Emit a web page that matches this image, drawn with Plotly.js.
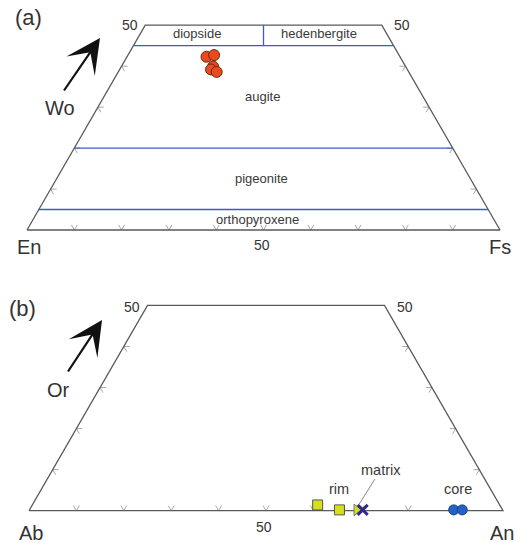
<!DOCTYPE html>
<html>
<head>
<meta charset="utf-8">
<script src="https://cdn.plot.ly/plotly-3.0.1.min.js"></script>
<style>html,body{margin:0;padding:0;background:#fff;}#chart{width:522px;height:543px;}</style>
</head>
<body>
<div id="chart"></div>
<script>
// ---------- DATA ----------
// (a) pyroxene compositions (mol %)
const pyxWo = [42.3, 42.7, 39.9, 39.2, 38.6];
const pyxEn = [40.9, 39.1, 40.7, 41.5, 40.6];
const pyxFs = [16.8, 18.2, 19.4, 19.3, 20.8];
// pyroxene field boundaries (Wo %)
const pyxBoundWo = [45, 20, 5];
const pyxFieldNames = ['diopside', 'hedenbergite', 'augite', 'pigeonite', 'orthopyroxene'];

// (b) feldspar compositions (mol %)
const rimAn = [60.2, 65.4];
const rimOr = [1.4, 0.2];
const rim2An = [69.0];
const rim2Or = [0.2];
const matrixAn = [70.3];
const matrixOr = [0.2];
const coreAn = [89.5, 91.3];
const coreOr = [0.2, 0.2];

// tick values (%)
const baseTicks = [10, 20, 30, 40, 50, 60, 70, 80, 90];
const sideTicks = [10, 20, 30, 40];
const topLimit = 50;

// ---------- GEOMETRY HELPERS ----------
const SQ = Math.sqrt(3) / 2;
// right = Fs or An (%), top = Wo or Or (%)
function tx(right, top) { return right + top / 2; }
function ty(top) { return top * SQ; }

function outline() {
  const c = [[0, 0], [100, 0], [100 - topLimit, topLimit], [0, topLimit], [0, 0]];
  return { x: c.map(p => tx(p[0], p[1])), y: c.map(p => ty(p[1])) };
}

function ticks() {
  const L = 1.25;
  const x = [], y = [];
  baseTicks.forEach(t => {
    x.push(t - L / 2, t, t + L / 2, null);
    y.push(L * SQ, 0, L * SQ, null);
  });
  sideTicks.forEach(w => {
    const lx = tx(0, w), ly = ty(w);
    x.push(lx + L, lx, lx + L / 2, null);
    y.push(ly, ly, ly - L * SQ, null);
    const rx = tx(100 - w, w);
    x.push(rx - L, rx, rx - L / 2, null);
    y.push(ly, ly, ly - L * SQ, null);
  });
  return { x, y };
}

function boundaries() {
  const x = [], y = [];
  pyxBoundWo.forEach(w => {
    x.push(tx(0, w), tx(100 - w, w), null);
    y.push(ty(w), ty(w), null);
  });
  // diopside / hedenbergite divide (En = Fs) between Wo 45 and 50
  const w0 = pyxBoundWo[0];
  x.push(tx((100 - w0) / 2, w0), tx((100 - topLimit) / 2, topLimit), null);
  y.push(ty(w0), ty(topLimit), null);
  return { x, y };
}

const ol = outline(), tk = ticks(), bd = boundaries();
const outlineStyle = { color: '#5a5a5a', width: 1.3 };
const tickStyle = { color: '#a8a8a8', width: 1 };

const traces = [];
['', '2'].forEach(s => {
  traces.push({ x: tk.x, y: tk.y, xaxis: 'x' + s, yaxis: 'y' + s, mode: 'lines', line: tickStyle, hoverinfo: 'skip' });
  traces.push({ x: ol.x, y: ol.y, xaxis: 'x' + s, yaxis: 'y' + s, mode: 'lines', line: outlineStyle, hoverinfo: 'skip' });
});
traces.push({ x: bd.x, y: bd.y, xaxis: 'x', yaxis: 'y', mode: 'lines', line: { color: '#3b5cc4', width: 1.3 }, hoverinfo: 'skip' });

// pyroxene points
traces.push({
  x: pyxFs.map((f, i) => tx(f, pyxWo[i])), y: pyxWo.map(ty),
  xaxis: 'x', yaxis: 'y', mode: 'markers',
  marker: { symbol: 'circle', size: 11, color: '#ea4a1e', line: { color: '#6b2a14', width: 1 } }
});

// feldspar points
traces.push({
  x: rimAn.map((a, i) => tx(a, rimOr[i])), y: rimOr.map(ty),
  xaxis: 'x2', yaxis: 'y2', mode: 'markers',
  marker: { symbol: 'square', size: 10, color: '#d4e01c', line: { color: '#555', width: 1 } }
});
traces.push({
  x: rim2An.map((a, i) => tx(a, rim2Or[i])), y: rim2Or.map(ty),
  xaxis: 'x2', yaxis: 'y2', mode: 'markers',
  marker: { symbol: 'triangle-right', size: 10, color: '#d4e01c', line: { color: '#777', width: 1 } }
});
traces.push({
  x: matrixAn.map((a, i) => tx(a, matrixOr[i])), y: matrixOr.map(ty),
  xaxis: 'x2', yaxis: 'y2', mode: 'markers',
  marker: { symbol: 'x-thin', size: 10, color: '#2d2a8e', line: { color: '#2d2a8e', width: 3 } }
});
traces.push({
  x: coreAn.map((a, i) => tx(a, coreOr[i])), y: coreOr.map(ty),
  xaxis: 'x2', yaxis: 'y2', mode: 'markers',
  marker: { symbol: 'circle', size: 10, color: '#2262c4', line: { color: '#1b3f86', width: 1 } }
});

// ---------- LAYOUT ----------
const W = 522, H = 543;
function P(px, py) { return { x: px / W, y: 1 - py / H, xref: 'paper', yref: 'paper' }; }
const dark = '#333';
const FAM = 'Liberation Sans, Arial, sans-serif';
function lab(px, py, text, size) {
  return Object.assign(P(px, py), { text: text, showarrow: false, xanchor: 'center', yanchor: 'middle',
    font: { family: FAM, size: size, color: dark } });
}
function dlab(xr, x, y, text, size) {
  return { xref: xr, yref: xr.replace('x', 'y'), x: x, y: y, text: text, showarrow: false,
    xanchor: 'center', yanchor: 'middle', font: { family: FAM, size: size, color: '#3a3a3a' } };
}
function arrow(hx, hy, ax, ay) {
  return Object.assign(P(hx, hy), { text: '', showarrow: true, arrowhead: 3, arrowsize: 2.6,
    arrowwidth: 2.2, arrowcolor: '#111', ax: ax, ay: ay, standoff: 0 });
}

const annotations = [
  lab(28, 17, '(a)', 22), lab(22, 308, '(b)', 22),
  lab(60, 108, 'Wo', 20), lab(58, 390, 'Or', 20),
  lab(29, 247, 'En', 20), lab(500, 247, 'Fs', 20), lab(262, 245, '50', 14),
  lab(130, 25, '50', 14), lab(402, 25, '50', 14),
  lab(31, 533, 'Ab', 20), lab(502, 533, 'An', 20), lab(264, 527, '50', 14),
  lab(132, 307, '50', 14), lab(405, 307, '50', 14),
  arrow(100, 38, -37, 54), arrow(102, 320, -35, 53),
  dlab('x', 35.9, 41.6, pyxFieldNames[0], 13),
  dlab('x', 61.7, 41.6, pyxFieldNames[1], 13),
  dlab('x', 49.7, 28.3, pyxFieldNames[2], 13),
  dlab('x', 49.5, 10.8, pyxFieldNames[3], 13),
  dlab('x', 48.8, 2.3, pyxFieldNames[4], 13),
  { xref: 'x2', yref: 'y2', x: tx(65.4, 0.2), y: 4.5, text: 'rim', showarrow: false,
    font: { family: FAM, size: 14.5, color: '#3a3a3a' } },
  { xref: 'x2', yref: 'y2', x: tx(90.4, 0.2), y: 4.5, text: 'core', showarrow: false,
    font: { family: FAM, size: 14.5, color: '#3a3a3a' } },
  { xref: 'x2', yref: 'y2', x: tx(matrixAn[0], matrixOr[0]) - 0.8, y: 1.3, text: 'matrix',
    showarrow: true, arrowhead: 0, arrowwidth: 1, arrowcolor: '#888', ax: 22, ay: -35, standoff: 0,
    font: { family: FAM, size: 14.5, color: '#3a3a3a' } }
];

const ax = { visible: false, showgrid: false, zeroline: false, fixedrange: true };
const layout = {
  width: W, height: H, margin: { l: 0, r: 0, t: 0, b: 0 },
  paper_bgcolor: '#fff', plot_bgcolor: 'rgba(0,0,0,0)', showlegend: false,
  xaxis: Object.assign({}, ax, { domain: [0, 1], range: [-5.708, 104.65], anchor: 'y' }),
  yaxis: Object.assign({}, ax, { domain: [0.5, 1], range: [-8.774, 48.63], anchor: 'x' }),
  xaxis2: Object.assign({}, ax, { domain: [0, 1], range: [-6.118, 104.01], anchor: 'y2' }),
  yaxis2: Object.assign({}, ax, { domain: [0, 0.5], range: [-6.814, 50.46], anchor: 'x2' }),
  annotations: annotations
};

Plotly.newPlot('chart', traces, layout, { staticPlot: true, displayModeBar: false });
</script>
</body>
</html>
